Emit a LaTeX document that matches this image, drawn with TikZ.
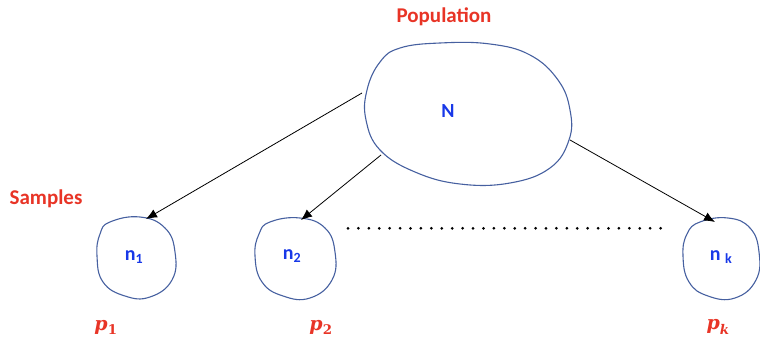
\documentclass[tikz,border=0pt]{standalone}
\usepackage{fontspec}
\setmainfont{Carlito}
\newfontfamily\pfont{DejaVu Serif}
\begin{document}
\begin{tikzpicture}[x=1pt,y=-1pt,
  outline/.style={draw=outl,line width=1.1pt},
  redlab/.style={text=labred,font=\fontsize{21}{24}\selectfont\bfseries,inner sep=0pt},
  bluelab/.style={text=labblue,font=\fontsize{20}{22}\selectfont\bfseries,inner sep=0pt},
  plab/.style={text=labred,font=\pfont\fontsize{19}{22}\selectfont\bfseries,inner sep=0pt},
  arr/.style={-{Latex[length=11pt,width=9pt]},line width=0.8pt,black}]
\usetikzlibrary{arrows.meta}
\definecolor{outl}{RGB}{70,96,160}
\definecolor{labred}{RGB}{232,52,38}
\definecolor{labblue}{RGB}{24,56,232}
\useasboundingbox (0,0) rectangle (760,339);
% population blob
\draw[outline] plot[smooth cycle,tension=0.7] coordinates {
 (380,62) (400,48) (440,43) (490,44) (530,55) (558,80) (570,110) (569,140)
 (550,168) (510,183) (460,184) (415,172) (380,150) (366,120) (367,90)};
% sample blobs
\draw[outline] plot[smooth cycle,tension=0.75] coordinates {
 (110,222) (140,217) (165,228) (175,252) (172,280) (150,297) (125,296) (103,282) (97,256) (100,234)};
\draw[outline] plot[smooth cycle,tension=0.75] coordinates {
 (270,222) (300,218) (325,228) (335,252) (332,280) (310,298) (283,296) (262,282) (255,256) (259,234)};
\draw[outline] plot[smooth cycle,tension=0.75] coordinates {
 (700,222) (728,218) (750,228) (759,252) (756,280) (735,298) (708,296) (689,282) (683,256) (687,234)};
% labels
\node[redlab] (pop) at (444,17) {Population};
\node[redlab] (samp) at (46,199) {Samples};
\node[bluelab] (N) at (448,111) {N};
\node[bluelab] (n1) at (134,257) {n\textsubscript{1}};
\node[bluelab] (n2) at (292,256) {n\textsubscript{2}};
\node[bluelab] (nk) at (721,257) {n \textsubscript{k}};
\node[plab] (p1) at (106,327) {\itshape p\textsubscript{\upshape 1}};
\node[plab] (p2) at (321,327) {\itshape p\textsubscript{\upshape 2}};
\node[plab] (pk) at (718,327) {\itshape p\textsubscript{k}};
% connector endpoints
\coordinate (a1) at (362,93);
\coordinate (b1) at (146,219);
\coordinate (a2) at (381,155);
\coordinate (b2) at (301,220);
\coordinate (a3) at (570,140);
\coordinate (b3) at (715,222);
\draw[arr] (a1) -- (b1);
\draw[arr] (a2) -- (b2);
\draw[arr] (a3) -- (b3);
% dotted row
\foreach \i in {0,...,30} \fill (348+\i*10.42,228.3) circle (1.5pt);
\end{tikzpicture}
\end{document}
